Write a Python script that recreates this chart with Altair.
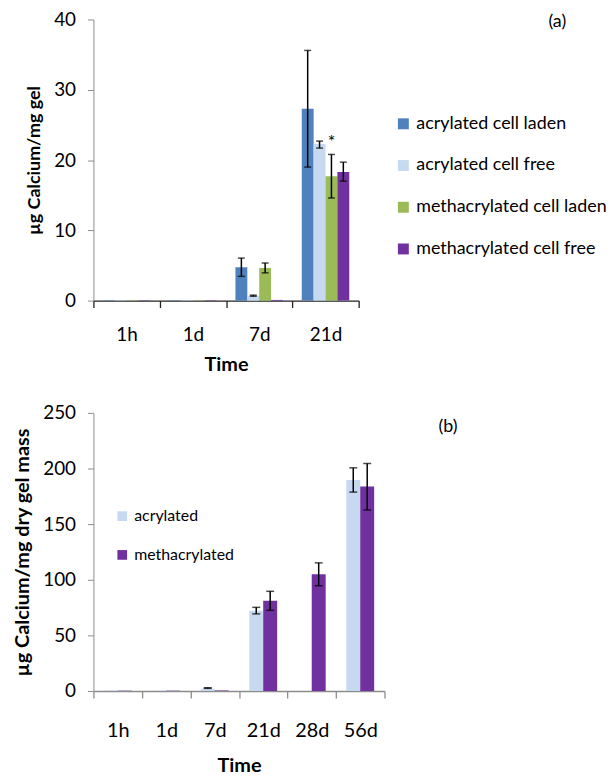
import altair as alt
import pandas as pd

FONT = "Lato"

# ---------------- Panel (a) data ----------------
times_a = ["1h", "1d", "7d", "21d"]
series_a = ["acrylated cell laden", "acrylated cell free",
            "methacrylated cell laden", "methacrylated cell free"]
colors_a = ["#4F81BD", "#C6D9F1", "#9BBB59", "#7030A0"]

acr_laden_a = [0.05, 0.05, 4.75, 27.3]
acr_free_a = [0.05, 0.05, 0.7, 22.3]
meth_laden_a = [0.05, 0.05, 4.65, 17.7]
meth_free_a = [0.05, 0.05, 0.1, 18.3]

acr_laden_lo_a = [None, None, 3.45, 19.0]
acr_laden_hi_a = [None, None, 6.05, 35.6]
acr_free_lo_a = [None, None, 0.62, 21.7]
acr_free_hi_a = [None, None, 0.78, 22.7]
meth_laden_lo_a = [None, None, 3.95, 14.6]
meth_laden_hi_a = [None, None, 5.35, 20.8]
meth_free_lo_a = [None, None, None, 17.0]
meth_free_hi_a = [None, None, None, 19.7]

star_time = ["21d"]
star_series = ["methacrylated cell laden"]
star_y = [22.4]
star_label = ["*"]

# ---------------- Panel (b) data ----------------
times_b = ["1h", "1d", "7d", "21d", "28d", "56d"]
series_b = ["acrylated", "methacrylated"]
colors_b = ["#C6D9F1", "#7030A0"]

acr_b = [0.4, 0.3, 2.0, 72.2, 0.0, 189.6]
meth_b = [0.3, 0.3, 0.5, 81.2, 105.0, 183.9]
acr_lo_b = [None, None, 2.4, 69.3, None, 178.8]
acr_hi_b = [None, None, 2.9, 75.2, None, 200.6]
meth_lo_b = [None, None, None, 72.5, 94.6, 162.7]
meth_hi_b = [None, None, None, 89.6, 115.2, 204.5]

# ---------------- build tables ----------------
rows_a = []
for s, v, lo, hi in zip(series_a,
                        [acr_laden_a, acr_free_a, meth_laden_a, meth_free_a],
                        [acr_laden_lo_a, acr_free_lo_a, meth_laden_lo_a, meth_free_lo_a],
                        [acr_laden_hi_a, acr_free_hi_a, meth_laden_hi_a, meth_free_hi_a]):
    for t, vv, l, h in zip(times_a, v, lo, hi):
        rows_a.append({"time": t, "series": s, "value": vv, "lo": l, "hi": h})
df_a = pd.DataFrame(rows_a)
err_a = df_a.dropna(subset=["lo", "hi"])
star_df = pd.DataFrame({"time": star_time, "series": star_series,
                        "y": star_y, "label": star_label})

rows_b = []
for s, v, lo, hi in zip(series_b, [acr_b, meth_b], [acr_lo_b, meth_lo_b], [acr_hi_b, meth_hi_b]):
    for t, vv, l, h in zip(times_b, v, lo, hi):
        rows_b.append({"time": t, "series": s, "value": vv, "lo": l, "hi": h})
df_b = pd.DataFrame(rows_b)
err_b = df_b.dropna(subset=["lo", "hi"])


def panel(df, err, times, series, colors, ymax, yticks, ytitle, ytitle_size,
          width, height, offpad, legend, xdomain_color, cap, tag, tagx, tagy,
          xlabel_size, xlabel_pad, xtitle_pad, extra=None):
    x_enc = alt.X("time:N", sort=times,
                  scale=alt.Scale(domain=times, paddingInner=0, paddingOuter=0),
                  axis=alt.Axis(title="Time", labelAngle=0, tickBand="extent",
                                domainColor=xdomain_color, tickColor=xdomain_color,
                                domainWidth=1.3, tickWidth=1.3, tickSize=7,
                                labelPadding=xlabel_pad, titlePadding=xtitle_pad,
                                labelFontSize=xlabel_size, titleFontSize=20,
                                titleFontWeight="bold", labelColor="black",
                                titleColor="black"))
    off_enc = alt.XOffset("series:N", sort=series,
                          scale=alt.Scale(domain=series, paddingInner=0,
                                          paddingOuter=offpad))
    y_scale = alt.Scale(domain=[0, ymax], nice=False)
    y_axis = alt.Axis(title=ytitle, values=yticks, grid=False,
                      domainColor="#8c8c8c", tickColor="#8c8c8c", tickSize=6,
                      labelPadding=12, titlePadding=10, labelFontSize=19,
                      titleFontSize=ytitle_size, titleFontWeight="bold",
                      labelColor="black", titleColor="black")

    bars = alt.Chart(df).mark_bar().encode(
        x=x_enc, xOffset=off_enc,
        y=alt.Y("value:Q", scale=y_scale, axis=y_axis),
        color=alt.Color("series:N", sort=series,
                        scale=alt.Scale(domain=series, range=colors),
                        legend=legend),
    )
    rules = alt.Chart(err).mark_rule(color="black", strokeWidth=1.5).encode(
        x=alt.X("time:N", sort=times), xOffset=alt.XOffset("series:N", sort=series),
        y="lo:Q", y2="hi:Q")
    cap_lo = alt.Chart(err).mark_tick(color="black", size=cap, thickness=1.5).encode(
        x=alt.X("time:N", sort=times), xOffset=alt.XOffset("series:N", sort=series),
        y="lo:Q")
    cap_hi = alt.Chart(err).mark_tick(color="black", size=cap, thickness=1.5).encode(
        x=alt.X("time:N", sort=times), xOffset=alt.XOffset("series:N", sort=series),
        y="hi:Q")
    tag_df = pd.DataFrame({"label": [tag]})
    tag_text = alt.Chart(tag_df).mark_text(fontSize=18, align="center",
                                           baseline="middle", color="black").encode(
        text="label:N", x=alt.value(tagx), y=alt.value(tagy))
    layers = [bars, rules, cap_lo, cap_hi, tag_text]
    if extra is not None:
        layers.append(extra)
    return alt.layer(*layers).properties(width=width, height=height)


legend_a = alt.Legend(title=None, orient="none", legendX=303, legendY=96,
                      symbolType="square", symbolSize=121, symbolStrokeWidth=0,
                      labelFontSize=18, labelColor="black", rowPadding=24,
                      labelLimit=400)
legend_b = alt.Legend(title=None, orient="none", legendX=21, legendY=96,
                      symbolType="square", symbolSize=95, symbolStrokeWidth=0,
                      labelFontSize=16, labelColor="black", rowPadding=23,
                      labelLimit=400)

star = alt.Chart(star_df).mark_text(fontSize=18, color="black").encode(
    x=alt.X("time:N", sort=times_a),
    xOffset=alt.XOffset("series:N", sort=series_a),
    y="y:Q", text="label:N")

top = panel(df_a, err_a, times_a, series_a, colors_a, 40, [0, 10, 20, 30, 40],
            "µg Calcium/mg gel", 18, 267, 283, 0.79, legend_a, "#222222", 7,
            "(a)", 467, 3, 19, 18, 10, extra=star)
bottom = panel(df_b, err_b, times_b, series_b, colors_b, 250,
               [0, 50, 100, 150, 200, 250], "µg Calcium/mg dry gel mass", 20,
               293, 280, 0.74, legend_b, "#8c8c8c", 8, "(b)", 357, 14,
               20, 23, 15)

chart = alt.vconcat(top, bottom, spacing=30).resolve_scale(
    color="independent", x="independent", y="independent", xOffset="independent"
).resolve_legend(color="independent").properties(
    padding={"top": 0, "left": 4, "right": 0, "bottom": 0}
).configure(font=FONT).configure_view(stroke=None)

chart.save("out.html", embed_options={"renderer": "svg", "actions": False})
